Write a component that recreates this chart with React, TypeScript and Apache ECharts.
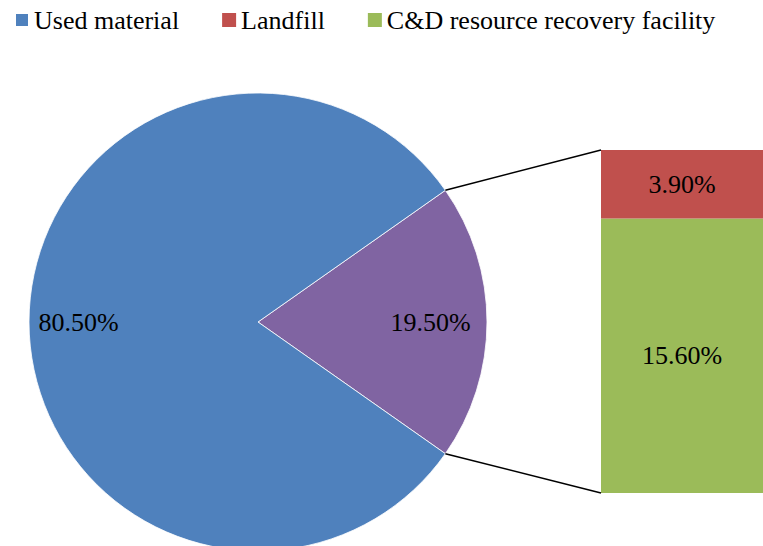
import React, { useEffect, useRef } from "react";
import * as echarts from "echarts";

const legendNames = ["Used material", "Landfill", "C&D resource recovery facility"];
const pieNames = ["Other", "Used material"];
const pieValues = [19.5, 80.5];
const barCategories = ["Other"];
const landfillValues = [3.9];
const recoveryValues = [15.6];

const BLUE = "#4F81BD";
const RED = "#C0504D";
const GREEN = "#9BBB59";
const PURPLE = "#8064A2";
const FONT = "'Liberation Serif', 'Times New Roman', serif";

const CX = 258;
const CY = 322;
const R = 229;

export default function App() {
  const ref = useRef<HTMLDivElement>(null);
  useEffect(() => {
    if (!ref.current) return;
    const chart = echarts.init(ref.current, undefined, { renderer: "svg" });
    const total = pieValues[0] + pieValues[1];
    const half = (pieValues[0] / total) * 180;
    const fmt = (v: number) => v.toFixed(2) + "%";
    const pieData = pieNames.map((n, i) => ({
      name: n,
      value: pieValues[i],
      itemStyle: { color: i === 0 ? PURPLE : BLUE },
    }));
    const labelData = pieNames.map((n, i) => ({
      name: n,
      value: pieValues[i],
      label: i === 0 ? { padding: [0, 16, 0, 0] } : { padding: [0, 0, 0, 2] },
    }));
    chart.setOption({
      animation: false,
      legend: {
        data: legendNames,
        left: 14,
        top: 7,
        padding: 0,
        itemWidth: 14,
        itemHeight: 14,
        itemGap: 43,
        icon: "rect",
        selectedMode: false,
        textStyle: { fontFamily: FONT, fontSize: 26, color: "#000", lineHeight: 26 },
      },
      grid: { left: 601, top: 150, width: 162, height: 343 },
      xAxis: { type: "category", data: barCategories, show: false },
      yAxis: { type: "value", min: 0, max: total - pieValues[1], show: false },
      series: [
        {
          type: "pie",
          center: [CX, CY],
          radius: R,
          startAngle: half,
          clockwise: true,
          silent: true,
          data: pieData,
          itemStyle: { borderColor: "#ffffff", borderWidth: 0.8 },
          label: { show: false },
          labelLine: { show: false },
        },
        {
          type: "pie",
          center: [CX, CY],
          radius: [R * 0.55, R],
          startAngle: half,
          clockwise: true,
          silent: true,
          data: labelData,
          itemStyle: { color: "transparent" },
          label: {
            show: true,
            position: "inside",
            formatter: (p: any) => fmt(p.value),
            fontFamily: FONT,
            fontSize: 26,
            color: "#000",
          },
          labelLine: { show: false },
        },
        {
          type: "bar",
          name: "C&D resource recovery facility",
          stack: "s",
          data: recoveryValues,
          barWidth: "100%",
          itemStyle: { color: GREEN },
          label: {
            show: true,
            position: "inside",
            formatter: (p: any) => fmt(p.value),
            fontFamily: FONT,
            fontSize: 26,
            color: "#000",
            padding: [4, 0, 0, 0],
          },
        },
        {
          type: "bar",
          name: "Landfill",
          stack: "s",
          data: landfillValues,
          barWidth: "100%",
          itemStyle: { color: RED },
          label: {
            show: true,
            position: "inside",
            formatter: (p: any) => fmt(p.value),
            fontFamily: FONT,
            fontSize: 26,
            color: "#000",
          },
        },
      ],
    });
    const rad = (half * Math.PI) / 180;
    const px = CX + R * Math.cos(rad);
    const pyTop = CY - R * Math.sin(rad);
    const pyBot = CY + R * Math.sin(rad);
    const topPt = chart.convertToPixel({ gridIndex: 0 }, [0, total - pieValues[1]]) as number[];
    const botPt = chart.convertToPixel({ gridIndex: 0 }, [0, 0]) as number[];
    const barLeft = 601;
    chart.setOption({
      graphic: [
        {
          type: "line",
          shape: { x1: px, y1: pyTop, x2: barLeft, y2: topPt[1] },
          style: { stroke: "#000", lineWidth: 1.5 },
          z: 10,
        },
        {
          type: "line",
          shape: { x1: px, y1: pyBot, x2: barLeft, y2: botPt[1] },
          style: { stroke: "#000", lineWidth: 1.5 },
          z: 10,
        },
      ],
    });
    return () => chart.dispose();
  }, []);
  return (
    <div
      ref={ref}
      style={{ position: "fixed", left: 0, top: 0, width: 763, height: 546, background: "#fff" }}
    />
  );
}
